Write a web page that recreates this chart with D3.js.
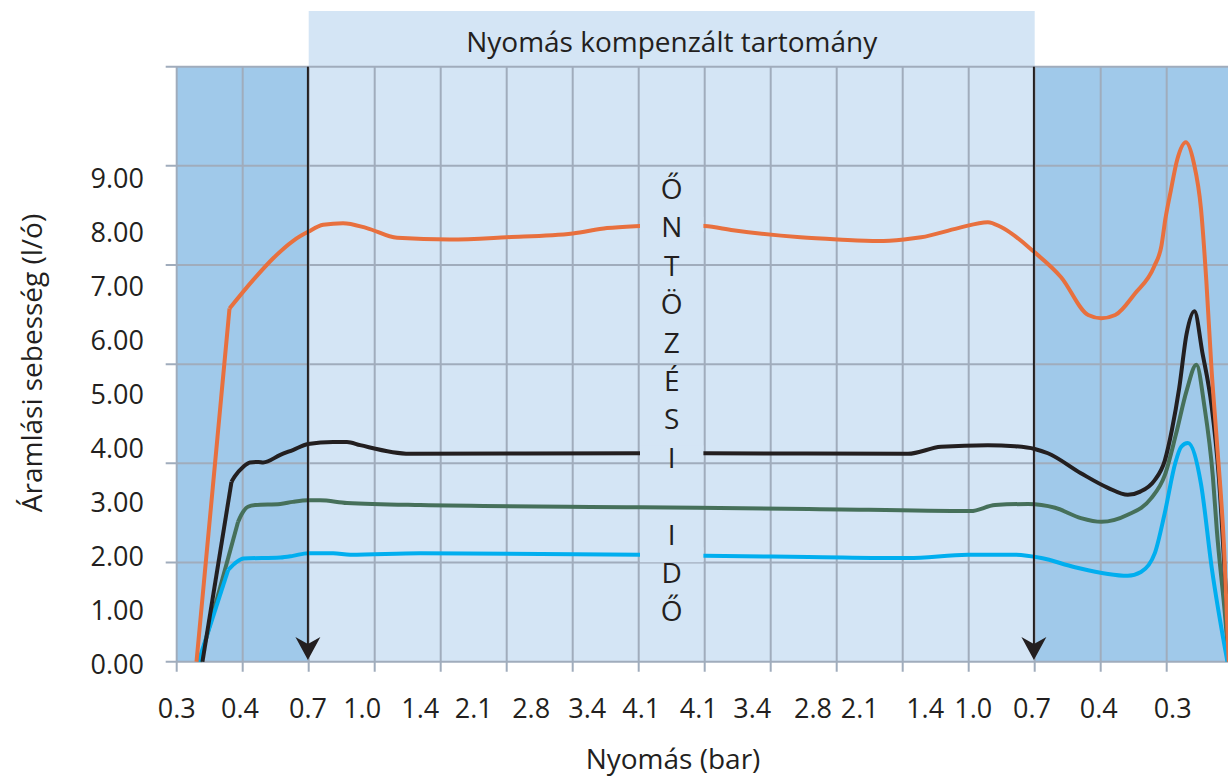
<!DOCTYPE html>
<meta charset="utf-8">
<script src="https://d3js.org/d3.v7.min.js"></script>
<style>
  body { margin: 0; background: #fff; }
  text { font-family: "Open Sans", sans-serif; fill: #231f20; }
</style>
<div id="chart"></div>
<script>
// x axis: pressure labels and where each one sits, in grid columns (0..16)
var xLabels = ["0.3","0.4","0.7","1.0","1.4","2.1","2.8","3.4","4.1","4.1","3.4","2.8","2.1","1.4","1.0","0.7","0.4","0.3"];
var xLabelPos = [0, 0.96, 1.99, 2.81, 3.69, 4.50, 5.37, 6.22, 7.04, 7.91, 8.72, 9.64, 10.35, 11.34, 12.07, 12.96, 13.97, 15.09];
var yTicks = [0, 1, 2, 3, 4, 5, 6, 7, 8, 9];
var stripLetters = ["Ő","N","T","Ö","Z","É","S","I","","I","D","Ő"];

// flow rate (l/ó) curves, [column position, value]
var orange = [[0.30,0],[0.80,6.54],[1.16,7.07],[1.47,7.48],[1.76,7.79],[1.99,7.96],[2.22,8.09],[2.52,8.12],
  [2.88,8.03],[3.34,7.85],[4.14,7.82],[5.00,7.86],[6.00,7.93],[6.52,8.03],[7.02,8.07],[7.5,8.09],[8.00,8.07],
  [8.43,7.99],[9.45,7.86],[10.02,7.82],[10.63,7.79],[11.02,7.82],[11.28,7.86],[11.84,8.03],[12.29,8.14],
  [12.49,8.05],[12.99,7.59],[13.40,7.12],[13.81,6.42],[14.01,6.36],[14.22,6.42],[14.52,6.82],[14.81,7.32],
  [14.92,7.70],[14.98,8.20],[15.06,8.71],[15.16,9.30],[15.29,9.62],[15.41,9.24],[15.52,8.38],[15.60,7.06],
  [15.68,5.40],[15.76,4.08],[15.87,2.09],[15.94,0]];
var black = [[0.39,0],[0.83,3.33],[0.88,3.43],[1.01,3.61],[1.11,3.69],[1.24,3.70],[1.31,3.69],[1.57,3.83],
  [1.76,3.92],[1.99,4.03],[2.37,4.07],[2.58,4.07],[2.78,4.01],[3.53,3.85],[7.02,3.86],[8.00,3.86],[11.08,3.85],
  [11.58,3.98],[12.29,4.01],[12.70,3.99],[13.00,3.94],[13.20,3.86],[13.70,3.49],[14.11,3.22],[14.41,3.09],
  [14.60,3.15],[14.81,3.35],[14.97,3.72],[15.08,4.30],[15.19,5.07],[15.30,6.06],[15.42,6.49],[15.54,5.73],
  [15.68,4.74],[15.79,3.42],[15.89,1.43],[15.96,0]];
var green = [[0.35,0],[0.93,2.59],[0.98,2.72],[1.08,2.87],[1.19,2.90],[1.57,2.92],[1.76,2.96],[1.99,2.99],
  [2.17,2.99],[2.58,2.94],[3.69,2.90],[7.02,2.86],[9.57,2.83],[12.03,2.79],[12.40,2.90],[12.90,2.92],
  [13.31,2.85],[13.70,2.66],[14.01,2.59],[14.41,2.72],[14.76,3.02],[14.97,3.45],[15.14,4.21],[15.30,5.01],
  [15.45,5.50],[15.57,4.74],[15.70,3.42],[15.76,2.43],[15.89,0.77],[15.94,0]];
var blue = [[0.33,0],[0.78,1.70],[0.91,1.85],[1.01,1.91],[1.57,1.93],[1.76,1.96],[1.99,2.01],[2.37,2.01],
  [2.63,1.98],[3.69,2.01],[7.02,1.98],[8.00,1.96],[9.57,1.94],[11.08,1.92],[11.99,1.98],[12.70,1.98],
  [13.10,1.92],[13.61,1.75],[14.41,1.59],[14.61,1.66],[14.82,2.01],[14.97,2.75],[15.13,3.68],[15.22,3.98],
  [15.32,4.05],[15.52,3.29],[15.68,1.76],[15.92,0]];

var series = [
  {data: green, color: "#46705a", masked: false},
  {data: blue, color: "#00aeef", masked: true},
  {data: black, color: "#231f20", masked: true},
  {data: orange, color: "#e8703e", masked: true}
];

var width = 1228, height = 776;
var plotTop = 66.7, plotBottom = 661.7, plotLeft = 176.7;

var svg = d3.select("#chart").append("svg")
  .attr("width", width)
  .attr("height", height);

var x = d3.scaleLinear().domain([0, 16]).range([plotLeft, plotLeft + 16 * 66]);
var y = d3.scaleLinear().domain([0, 9]).range([plotBottom, 175.7]);
var gy = d3.scaleLinear().domain([0, 6]).range([plotBottom, plotTop]); // grid rows

var darkBlue = "#a0c9ea", lightBlue = "#d4e5f5", gridColor = "#a0acbc";

// header band
svg.append("rect")
  .attr("x", x(2)).attr("y", 11)
  .attr("width", x(13) - x(2)).attr("height", plotTop - 11)
  .attr("fill", lightBlue);
svg.append("text")
  .attr("x", (x(2) + x(13)) / 2).attr("y", 51.5)
  .attr("text-anchor", "middle")
  .style("font-size", "28px")
  .text("Nyomás kompenzált tartomány");

// plot backgrounds
svg.append("rect").attr("x", x(0)).attr("y", plotTop)
  .attr("width", x(2) - x(0)).attr("height", plotBottom - plotTop).attr("fill", darkBlue);
svg.append("rect").attr("x", x(2)).attr("y", plotTop)
  .attr("width", x(13) - x(2)).attr("height", plotBottom - plotTop).attr("fill", lightBlue);
svg.append("rect").attr("x", x(13)).attr("y", plotTop)
  .attr("width", x(16) - x(13)).attr("height", plotBottom - plotTop).attr("fill", darkBlue);

// grid
svg.append("g").selectAll("line")
  .data(d3.range(0, 17))
  .join("line")
    .attr("x1", d => x(d)).attr("x2", d => x(d))
    .attr("y1", plotTop).attr("y2", plotBottom + 10)
    .attr("stroke", gridColor).attr("stroke-width", 2);
svg.append("g").selectAll("line")
  .data(d3.range(0, 7))
  .join("line")
    .attr("x1", plotLeft - 11).attr("x2", width)
    .attr("y1", d => gy(d)).attr("y2", d => gy(d))
    .attr("stroke", gridColor).attr("stroke-width", 2);

// y tick labels
svg.append("g").selectAll("text")
  .data(yTicks)
  .join("text")
    .attr("x", 144)
    .attr("y", d => y(d) + 1.5)
    .attr("text-anchor", "end")
    .attr("dominant-baseline", "central")
    .style("font-size", "27px")
    .text(d => d3.format(".2f")(d));

// x tick labels
svg.append("g").selectAll("text")
  .data(xLabels)
  .join("text")
    .attr("x", (d, i) => x(xLabelPos[i]))
    .attr("y", 718)
    .attr("text-anchor", "middle")
    .style("font-size", "27px")
    .text(d => d);

// axis titles
svg.append("text")
  .attr("x", 673).attr("y", 769)
  .attr("text-anchor", "middle")
  .style("font-size", "28px")
  .text("Nyomás (bar)");
svg.append("text")
  .attr("transform", "translate(42," + 363 + ") rotate(-90)")
  .attr("text-anchor", "middle")
  .style("font-size", "28px")
  .text("Áramlási sebesség (l/ó)");

// curves: straight initial climb, smooth afterwards
var straight = d3.line()
  .x(d => x(d[0]))
  .y(d => y(d[1]));
var smooth = d3.line()
  .x(d => x(d[0]))
  .y(d => y(d[1]))
  .curve(d3.curveMonotoneX);

var curves = svg.append("g").selectAll("g")
  .data(series)
  .join("g")
    .attr("fill", "none")
    .attr("stroke", d => d.color)
    .attr("stroke-width", 4)
    .attr("stroke-linejoin", "round");
curves.append("path").attr("d", d => straight(d.data.slice(0, 2)));
curves.append("path").attr("d", d => smooth(d.data.slice(1)));

// gaps in the curves behind the vertical text
function valueAt(data, p) {
  for (var i = 1; i < data.length; i++) {
    if (data[i][0] >= p) {
      var a = data[i - 1], b = data[i];
      return a[1] + (b[1] - a[1]) * (p - a[0]) / (b[0] - a[0]);
    }
  }
  return data[data.length - 1][1];
}
svg.append("g").selectAll("rect")
  .data(series.filter(d => d.masked))
  .join("rect")
    .attr("x", x(7) + 1.3)
    .attr("width", x(8) - x(7) - 2.6)
    .attr("y", d => y(valueAt(d.data, 7.5)) - 8)
    .attr("height", 15)
    .attr("fill", lightBlue);

// vertical text in the middle column
svg.append("g").selectAll("text")
  .data(stripLetters)
  .join("text")
    .attr("x", (x(7) + x(8)) / 2)
    .attr("y", (d, i) => 199 + i * 38.4)
    .attr("text-anchor", "middle")
    .style("font-size", "28px")
    .text(d => d);

// arrows marking the compensated range
[2, 13].forEach(function(p) {
  var ax = x(p) - 0.8;
  svg.append("line")
    .attr("x1", ax).attr("x2", ax)
    .attr("y1", plotTop).attr("y2", 645)
    .attr("stroke", "#231f20").attr("stroke-width", 2);
  svg.append("path")
    .attr("d", "M" + ax + ",660 L" + (ax - 12.5) + ",637 L" + ax + ",644 L" + (ax + 12.5) + ",637 Z")
    .attr("fill", "#231f20");
});
</script>
